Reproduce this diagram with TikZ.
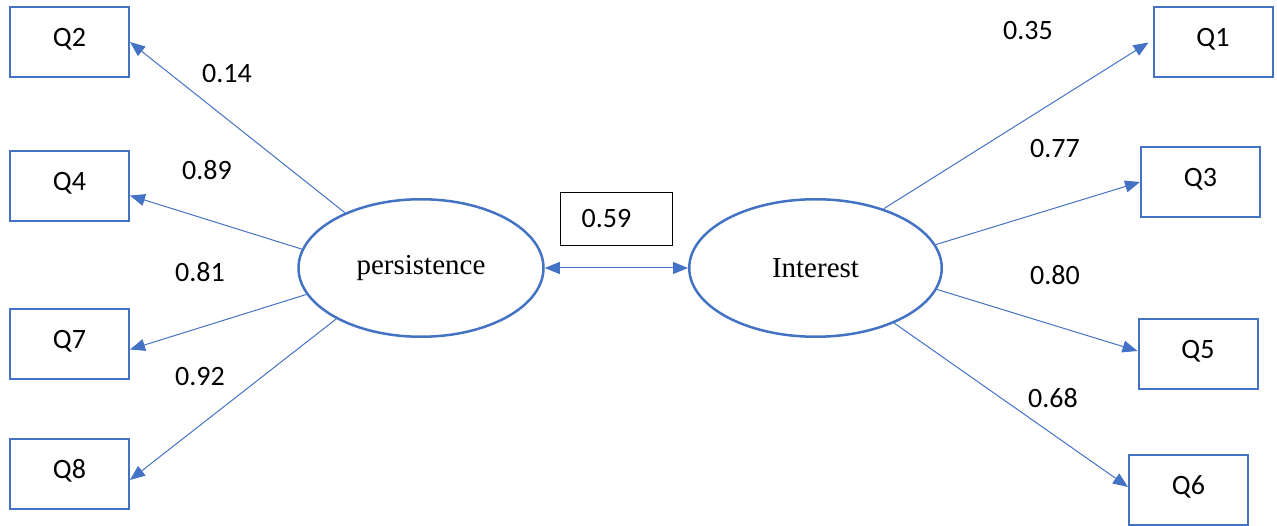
\documentclass[tikz,border=0pt]{standalone}
\usepackage{fontspec}
\setmainfont{Liberation Serif}
\newfontfamily\calfont{Carlito}
\usepackage{tikz}
\usetikzlibrary{shapes,arrows.meta}
\definecolor{semblue}{HTML}{4472C4}

\begin{document}
\begin{tikzpicture}[x=1pt,y=-1pt]
    \newcommand{\numsize}[0]{\calfont\fontsize{28}{34}\selectfont}
    \tikzstyle{edge}  = [line width=1pt,draw=semblue,-{Triangle[length=15pt,width=12pt]}]
    \tikzstyle{dedge} = [line width=1pt,draw=semblue,{Triangle[length=15pt,width=12pt]}-{Triangle[length=15pt,width=12pt]}]
    \tikzstyle{item}=[
      rectangle,
      draw=semblue,
      line width=2pt,
      minimum width=119pt,
      minimum height=70pt,
      inner sep=0pt,
      text height=18pt,
      text depth=9pt,
      font=\numsize
    ]
    \tikzstyle{latent}=[
      ellipse,
      draw=semblue,
      line width=2.5pt,
      minimum height=137.5pt,
      inner sep=0pt,
      font=\fontsize{29}{35}\selectfont
    ]
    \tikzstyle{weight}=[font=\numsize,inner sep=0pt]

    \useasboundingbox (0,0) rectangle (1277,526);

    \node[latent,minimum width=245pt] (pers) at (421,268) {persistence};
    \node[latent,minimum width=252.5pt] (int) at (815.5,268) {Interest};

    \node[item] (q2) at (69.5,42) {Q2};
    \node[item] (q4) at (69.5,186.5) {Q4};
    \node[item] (q7) at (69.5,344.5) {Q7};
    \node[item] (q8) at (69.5,474) {Q8};
    \node[item] (q1) at (1213,42.5) {Q1};
    \node[item] (q3) at (1200.5,182) {Q3};
    \node[item] (q5) at (1198,354) {Q5};
    \node[item] (q6) at (1188.5,490) {Q6};

    \node[draw=black,line width=1pt,minimum width=112pt,minimum height=53pt,font=\numsize] (cov) at (616.5,219) {0.59\kern20pt\null};

    \node[weight] (w2) at (227,74) {0.14};
    \node[weight] (w4) at (207,170) {0.89};
    \node[weight] (w7) at (200,272) {0.81};
    \node[weight] (w8) at (200,377) {0.92};
    \node[weight] (w1) at (1028,31) {0.35};
    \node[weight] (w3) at (1055,149) {0.77};
    \node[weight] (w5) at (1055,275) {0.80};
    \node[weight] (w6) at (1053,398) {0.68};

    \draw[edge] (pers.144)--(q2.east);
    \draw[edge] (pers.171)--([yshift=-9pt]q4.east);
    \draw[edge] (pers.193)--([yshift=-5pt]q7.east);
    \draw[edge] (pers.211)--([yshift=-6pt]q8.east);
    \draw[edge] (int.41)--([xshift=-4pt]q1.west);
    \draw[edge] (int.11)--(q3.west);
    \draw[edge] (int.350)--([yshift=3pt]q5.west);
    \draw[edge] (int.325)--([yshift=3pt]q6.west);
    \draw[dedge] (pers.east)--(int.west);
  \end{tikzpicture}
\end{document}
